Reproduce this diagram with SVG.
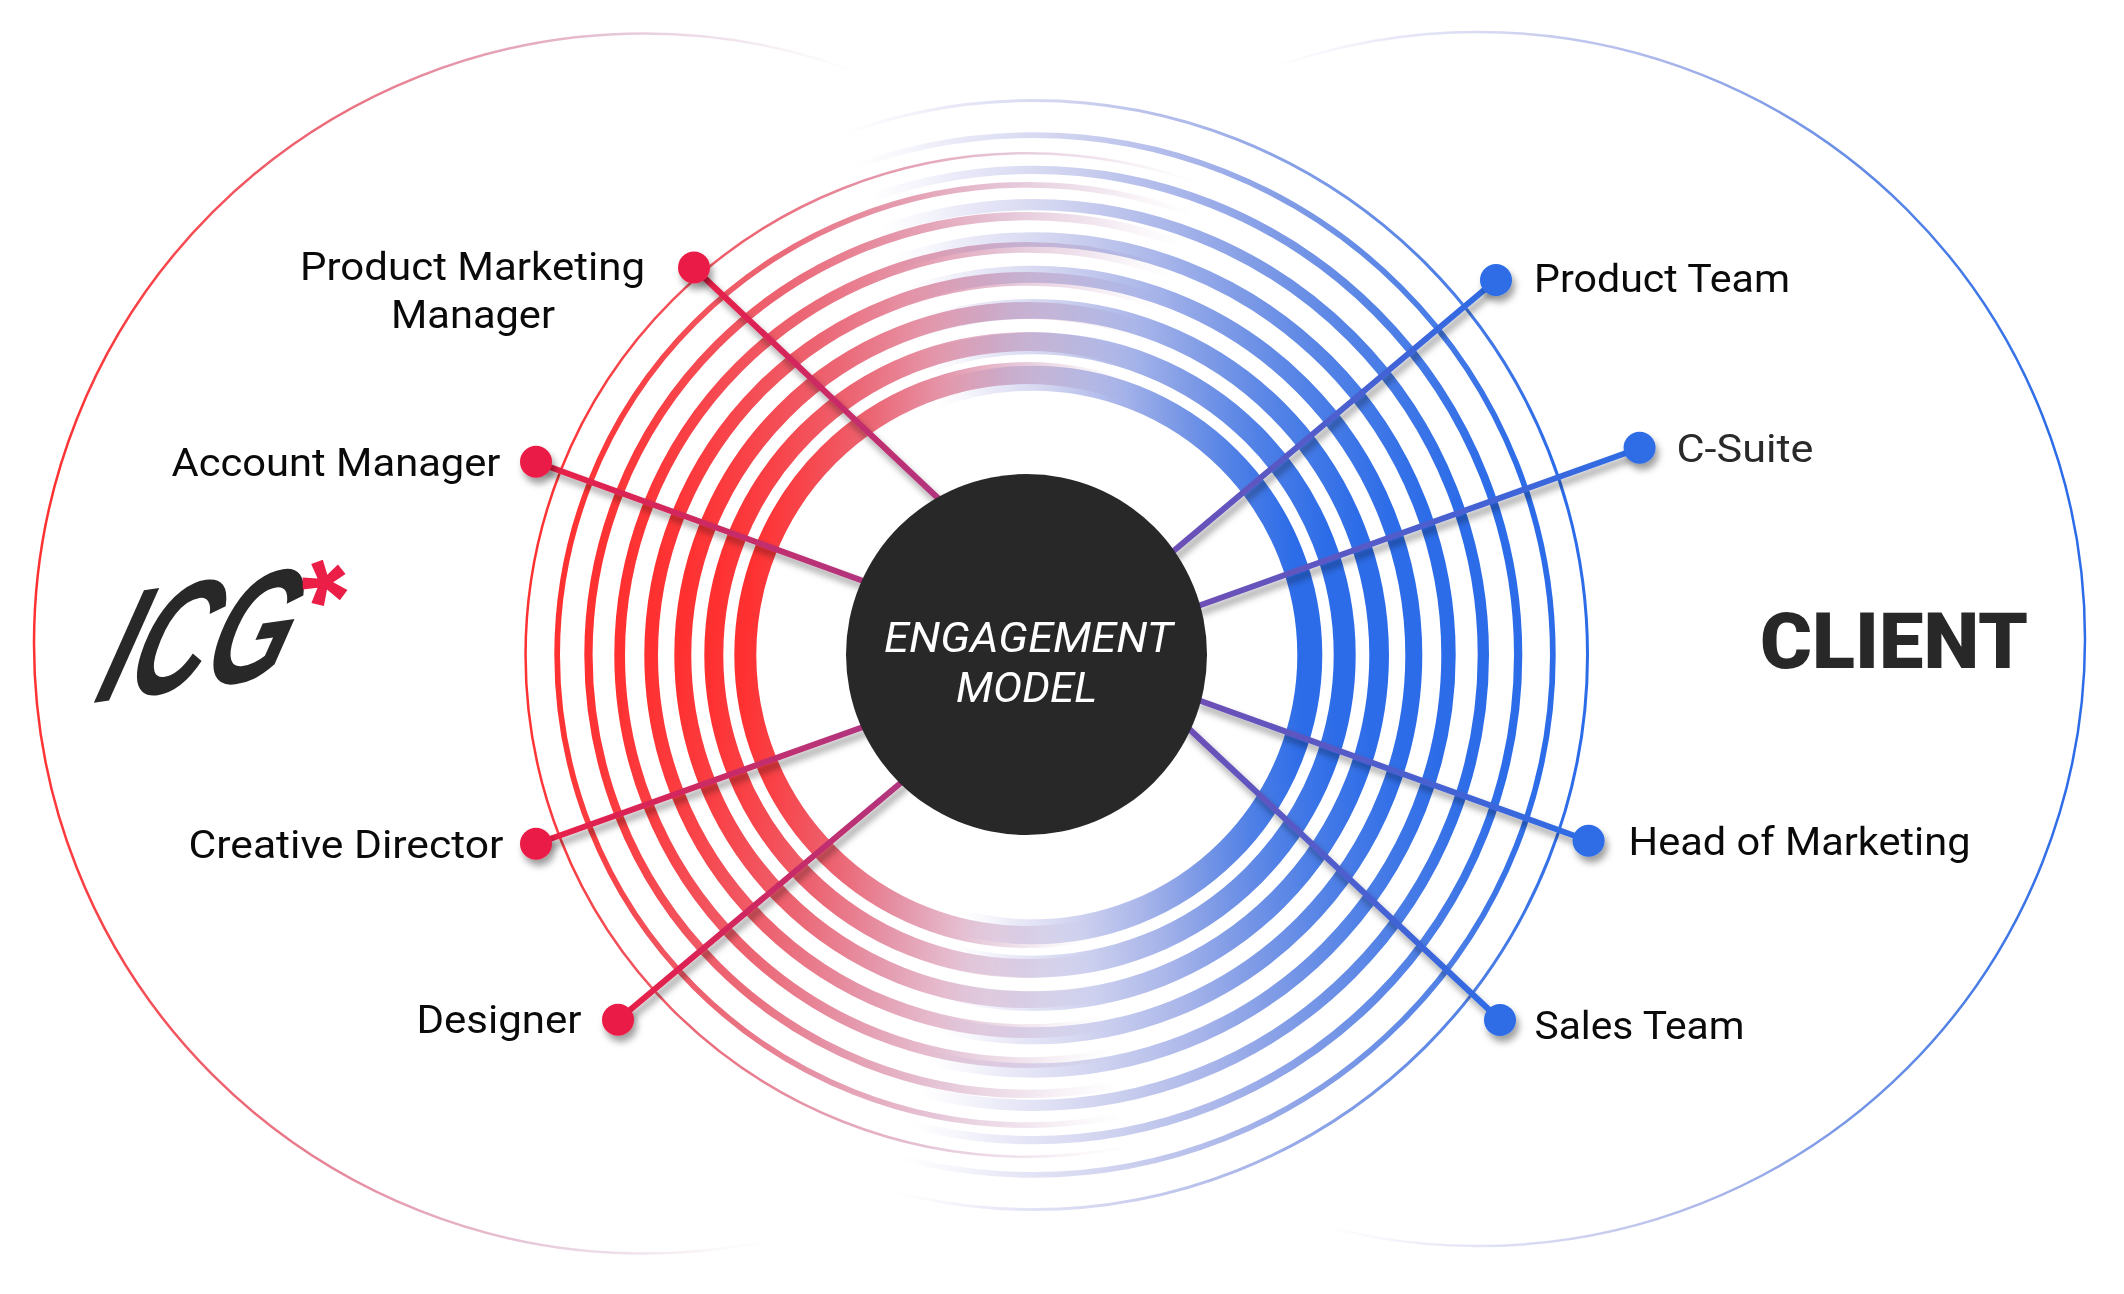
<svg xmlns="http://www.w3.org/2000/svg" xmlns:xlink="http://www.w3.org/1999/xlink" width="2124" height="1294" viewBox="0 0 2124 1294">
<style>
.r{fill:none;stroke:url(#redG)}
.b{fill:none;stroke:url(#blueG)}
.c{fill:none;stroke-width:6;stroke-linecap:round}
.lb{font-family:Roboto,"Liberation Sans",sans-serif;font-size:38px;fill:#0a0a0a;font-weight:400}
.ctr{font-family:Roboto,"Liberation Sans",sans-serif;font-size:42px;fill:#fff;font-style:italic;font-weight:400}
.dr{fill:#ea1e46}
.db{fill:#2d6de6}
</style>
<defs>
<linearGradient id="redG" x1="0" y1="0.4625" x2="1" y2="0.5375">
<stop offset="0" stop-color="#ff3030"/><stop offset="0.08" stop-color="#f8444a"/><stop offset="0.19" stop-color="#ec6472"/><stop offset="0.31" stop-color="#e594a8"/><stop offset="0.44" stop-color="#e5c6d8"/><stop offset="0.53" stop-color="#ecdce8" stop-opacity="0.8"/><stop offset="0.64" stop-color="#f4ecf4" stop-opacity="0"/>
</linearGradient>
<linearGradient id="blueG" x1="0" y1="0.523" x2="1" y2="0.477">
<stop offset="0.35" stop-color="#eeeefa" stop-opacity="0"/><stop offset="0.45" stop-color="#e4e4f6" stop-opacity="0.85"/><stop offset="0.56" stop-color="#cfd2ef"/><stop offset="0.67" stop-color="#abb7ea"/><stop offset="0.77" stop-color="#7f9be6"/><stop offset="0.88" stop-color="#4f80e6"/><stop offset="0.98" stop-color="#2c6ce8"/>
</linearGradient>
<linearGradient id="cr"><stop offset="0" stop-color="#ea1e46"/><stop offset="1" stop-color="#b0357f"/></linearGradient>
<linearGradient id="cb"><stop offset="0" stop-color="#2d6de6"/><stop offset="1" stop-color="#6e4fb5"/></linearGradient>
<linearGradient id="c1" href="#cr" gradientUnits="userSpaceOnUse" x1="694" y1="268" x2="940" y2="500"/>
<linearGradient id="c2" href="#cr" gradientUnits="userSpaceOnUse" x1="536" y1="462" x2="866" y2="582"/>
<linearGradient id="c3" href="#cr" gradientUnits="userSpaceOnUse" x1="536" y1="844" x2="866" y2="726"/>
<linearGradient id="c4" href="#cr" gradientUnits="userSpaceOnUse" x1="618" y1="1020" x2="903" y2="781"/>
<linearGradient id="c5" href="#cb" gradientUnits="userSpaceOnUse" x1="1496" y1="280" x2="1170" y2="554"/>
<linearGradient id="c6" href="#cb" gradientUnits="userSpaceOnUse" x1="1640" y1="448" x2="1198" y2="606"/>
<linearGradient id="c7" href="#cb" gradientUnits="userSpaceOnUse" x1="1589" y1="841" x2="1198" y2="700"/>
<linearGradient id="c8" href="#cb" gradientUnits="userSpaceOnUse" x1="1500" y1="1020" x2="1186" y2="726"/>
<filter id="sh" filterUnits="userSpaceOnUse" x="0" y="0" width="2124" height="1294"><feDropShadow dx="3" dy="6" stdDeviation="3.5" flood-color="#000" flood-opacity="0.38"/></filter>
</defs>
<rect width="2124" height="1294" fill="#fff"/>
<g id="venn">
<circle class="r" cx="644" cy="643.5" r="610" stroke-width="2.5"/>
<circle class="b" cx="1478" cy="639" r="607" stroke-width="2.5"/>
</g>
<g id="rings-blue">
<circle class="b" cx="1033" cy="655" r="554.5" stroke-width="3"/>
<circle class="b" cx="1033" cy="655" r="519.85" stroke-width="5.7"/>
<circle class="b" cx="1033" cy="655" r="485.15" stroke-width="8.3"/>
<circle class="b" cx="1033" cy="655" r="450.35" stroke-width="11.3"/>
<circle class="b" cx="1033" cy="655" r="415.5" stroke-width="14.4"/>
<circle class="b" cx="1033" cy="655" r="380.8" stroke-width="17"/>
<circle class="b" cx="1033" cy="655" r="346.15" stroke-width="19.7"/>
<circle class="b" cx="1033" cy="655" r="311.7" stroke-width="22"/>
<circle class="b" cx="1033" cy="655" r="276.8" stroke-width="25"/>
</g>
<g id="rings-red" style="mix-blend-mode:multiply">
<circle class="r" cx="1027.3" cy="655" r="501.75" stroke-width="2.5"/>
<circle class="r" cx="1027.3" cy="655" r="470.15" stroke-width="5.7"/>
<circle class="r" cx="1027.3" cy="655" r="438.85" stroke-width="8.3"/>
<circle class="r" cx="1027.3" cy="655" r="407.65" stroke-width="10.7"/>
<circle class="r" cx="1027.3" cy="655" r="376.15" stroke-width="13.7"/>
<circle class="r" cx="1027.3" cy="655" r="344.5" stroke-width="17"/>
<circle class="r" cx="1027.3" cy="655" r="313.5" stroke-width="19"/>
<circle class="r" cx="1027.3" cy="655" r="282" stroke-width="22"/>
</g>
<g id="connectors">
<line class="c" x1="694" y1="268" x2="940" y2="500" stroke="url(#c1)" filter="url(#sh)"/>
<line class="c" x1="536" y1="462" x2="866" y2="582" stroke="url(#c2)" filter="url(#sh)"/>
<line class="c" x1="536" y1="844" x2="866" y2="726" stroke="url(#c3)" filter="url(#sh)"/>
<line class="c" x1="618" y1="1020" x2="903" y2="781" stroke="url(#c4)" filter="url(#sh)"/>
<line class="c" x1="1496" y1="280" x2="1170" y2="554" stroke="url(#c5)" filter="url(#sh)"/>
<line class="c" x1="1640" y1="448" x2="1198" y2="606" stroke="url(#c6)" filter="url(#sh)"/>
<line class="c" x1="1589" y1="841" x2="1198" y2="700" stroke="url(#c7)" filter="url(#sh)"/>
<line class="c" x1="1500" y1="1020" x2="1186" y2="726" stroke="url(#c8)" filter="url(#sh)"/>
</g>
<g id="center">
<circle cx="1026.5" cy="654.5" r="180.5" fill="#282828"/>
<text class="ctr" x="884" y="652" textLength="289" lengthAdjust="spacingAndGlyphs">ENGAGEMENT</text>
<text class="ctr" x="956" y="702" textLength="141" lengthAdjust="spacingAndGlyphs">MODEL</text>
</g>
<g id="node-pmm">
<circle class="dr" cx="694" cy="267.5" r="16" filter="url(#sh)"/>
<text class="lb" x="300" y="280" textLength="345" lengthAdjust="spacingAndGlyphs">Product Marketing</text>
<text class="lb" x="391" y="328" textLength="164" lengthAdjust="spacingAndGlyphs">Manager</text>
</g>
<g id="node-am">
<circle class="dr" cx="536" cy="461.7" r="16" filter="url(#sh)"/>
<text class="lb" x="171.5" y="476" textLength="329" lengthAdjust="spacingAndGlyphs">Account Manager</text>
</g>
<g id="node-cd">
<circle class="dr" cx="536" cy="843.7" r="16" filter="url(#sh)"/>
<text class="lb" x="188.5" y="857.7" textLength="315" lengthAdjust="spacingAndGlyphs">Creative Director</text>
</g>
<g id="node-des">
<circle class="dr" cx="618" cy="1019.7" r="16" filter="url(#sh)"/>
<text class="lb" x="416.5" y="1033" textLength="165" lengthAdjust="spacingAndGlyphs">Designer</text>
</g>
<g id="node-pt">
<circle class="db" cx="1496" cy="280" r="16" filter="url(#sh)"/>
<text class="lb" x="1534" y="291.7" textLength="256" lengthAdjust="spacingAndGlyphs">Product Team</text>
</g>
<g id="node-cs">
<circle class="db" cx="1639.6" cy="447.7" r="16" filter="url(#sh)"/>
<text class="lb" x="1676.5" y="461.7" textLength="137" lengthAdjust="spacingAndGlyphs" style="fill:#2a2a2a">C-Suite</text>
</g>
<g id="node-hm">
<circle class="db" cx="1588.6" cy="840.7" r="16" filter="url(#sh)"/>
<text class="lb" x="1628.5" y="855" textLength="342" lengthAdjust="spacingAndGlyphs">Head of Marketing</text>
</g>
<g id="node-st">
<circle class="db" cx="1500" cy="1020" r="16" filter="url(#sh)"/>
<text class="lb" x="1534.5" y="1039" textLength="210" lengthAdjust="spacingAndGlyphs">Sales Team</text>
</g>
<g id="client">
<text x="1760" y="667.7" textLength="268" lengthAdjust="spacingAndGlyphs" style="font-family:Roboto,'Liberation Sans',sans-serif;font-size:77px;font-weight:900;fill:#282828">CLIENT</text>
</g>
<g id="icg">
<text transform="translate(92,703) rotate(-8) skewX(-26)" textLength="190" lengthAdjust="spacingAndGlyphs" style="font-family:'Liberation Sans',sans-serif;font-size:152px;font-weight:700;font-style:italic;fill:#282828">ICG</text>
<text transform="translate(323,646) rotate(-20)" style="font-family:'Liberation Sans',sans-serif;font-size:118px;font-weight:700;fill:#ea1e46">*</text>
</g>
</svg>
